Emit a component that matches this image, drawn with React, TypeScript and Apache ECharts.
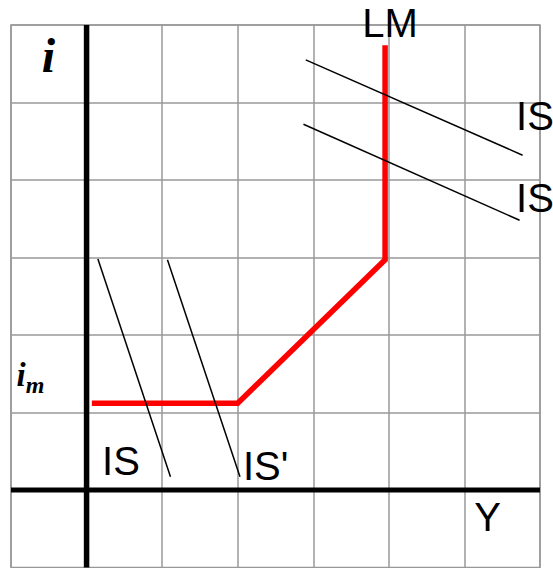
import React, { useEffect, useRef } from "react";
import * as echarts from "echarts";

// Axis range (grid cells)
const xRange = [-1, 6];
const yRange = [-1, 6];

// LM curve (red)
const lmX = [0.07, 2.0, 3.95, 3.95];
const lmY = [1.12, 1.12, 2.97, 5.74];

// IS curves
const is1X = [2.9, 5.77];
const is1Y = [5.55, 4.32];
const is2X = [2.87, 5.73];
const is2Y = [4.72, 3.48];
const isLowX = [0.15, 1.11];
const isLowY = [2.98, 0.17];
const isPrimeX = [1.07, 2.03];
const isPrimeY = [2.97, 0.17];

// Coordinate axes (thick black)
const yAxisLineX = [0, 0];
const yAxisLineY = [-1, 6];
const xAxisLineX = [-1, 6];
const xAxisLineY = [0, 0];

const zip = (xs: number[], ys: number[]) => xs.map((x, i) => [x, ys[i]]);

export default function App() {
  const ref = useRef<HTMLDivElement>(null);
  useEffect(() => {
    if (!ref.current) return;
    const chart = echarts.init(ref.current, undefined, { renderer: "svg" });
    const sans = "Liberation Sans, Arial, sans-serif";
    const serif = "Liberation Serif, Times New Roman, serif";
    const lineSeries = (data: number[][], color: string, width: number, z: number) => ({
      type: "line",
      data,
      symbol: "none",
      silent: true,
      clip: false,
      z,
      lineStyle: { color, width, cap: "butt", join: "miter" },
    });
    chart.setOption({
      animation: false,
      backgroundColor: "#ffffff",
      grid: {
        left: 11,
        right: 13,
        top: 25,
        bottom: 0.5,
        show: true,
        borderColor: "#999",
        borderWidth: 1.5,
        backgroundColor: "transparent",
      },
      xAxis: {
        type: "value",
        min: xRange[0],
        max: xRange[1],
        interval: 1,
        axisLine: { show: false },
        axisTick: { show: false },
        axisLabel: { show: false },
        splitLine: { show: true, lineStyle: { color: "#999", width: 1.5 } },
      },
      yAxis: {
        type: "value",
        min: yRange[0],
        max: yRange[1],
        interval: 1,
        axisLine: { show: false },
        axisTick: { show: false },
        axisLabel: { show: false },
        splitLine: { show: true, lineStyle: { color: "#999", width: 1.5 } },
      },
      series: [
        lineSeries(zip(yAxisLineX, yAxisLineY), "#000", 5.5, 2),
        lineSeries(zip(xAxisLineX, xAxisLineY), "#000", 5, 2),
        lineSeries(zip(lmX, lmY), "#ff0000", 5.5, 3),
        lineSeries(zip(is1X, is1Y), "#000", 1.5, 4),
        lineSeries(zip(is2X, is2Y), "#000", 1.5, 4),
        lineSeries(zip(isLowX, isLowY), "#000", 1.5, 4),
        lineSeries(zip(isPrimeX, isPrimeY), "#000", 1.5, 4),
      ],
      graphic: [
        { type: "text", x: 390, y: 22.5, z: 10, style: { text: "LM", font: `40px ${sans}`, fill: "#000", align: "center", verticalAlign: "middle" } },
        { type: "text", x: 535, y: 116, z: 10, style: { text: "IS", font: `40px ${sans}`, fill: "#000", align: "center", verticalAlign: "middle" } },
        { type: "text", x: 535, y: 198, z: 10, style: { text: "IS", font: `40px ${sans}`, fill: "#000", align: "center", verticalAlign: "middle" } },
        { type: "text", x: 121, y: 461, z: 10, style: { text: "IS", font: `40px ${sans}`, fill: "#000", align: "center", verticalAlign: "middle" } },
        { type: "text", x: 243, y: 466, z: 10, style: { text: "IS'", font: `40px ${sans}`, fill: "#000", align: "left", verticalAlign: "middle" } },
        { type: "text", x: 487.5, y: 517, z: 10, style: { text: "Y", font: `40px ${sans}`, fill: "#000", align: "center", verticalAlign: "middle" } },
        { type: "text", x: 48.5, y: 55.5, z: 10, style: { text: "i", font: `italic bold 48px ${serif}`, fill: "#000", align: "center", verticalAlign: "middle" } },
        { type: "text", x: 21, y: 375, z: 10, style: { text: "i", font: `italic bold 33px ${serif}`, fill: "#000", align: "center", verticalAlign: "middle" } },
        { type: "text", x: 35, y: 385, z: 10, style: { text: "m", font: `italic bold 24px ${serif}`, fill: "#000", align: "center", verticalAlign: "middle" } },
      ],
    });
    return () => chart.dispose();
  }, []);
  return (
    <div
      ref={ref}
      style={{ position: "fixed", left: 0, top: 0, width: 553, height: 568, background: "#fff" }}
    />
  );
}
